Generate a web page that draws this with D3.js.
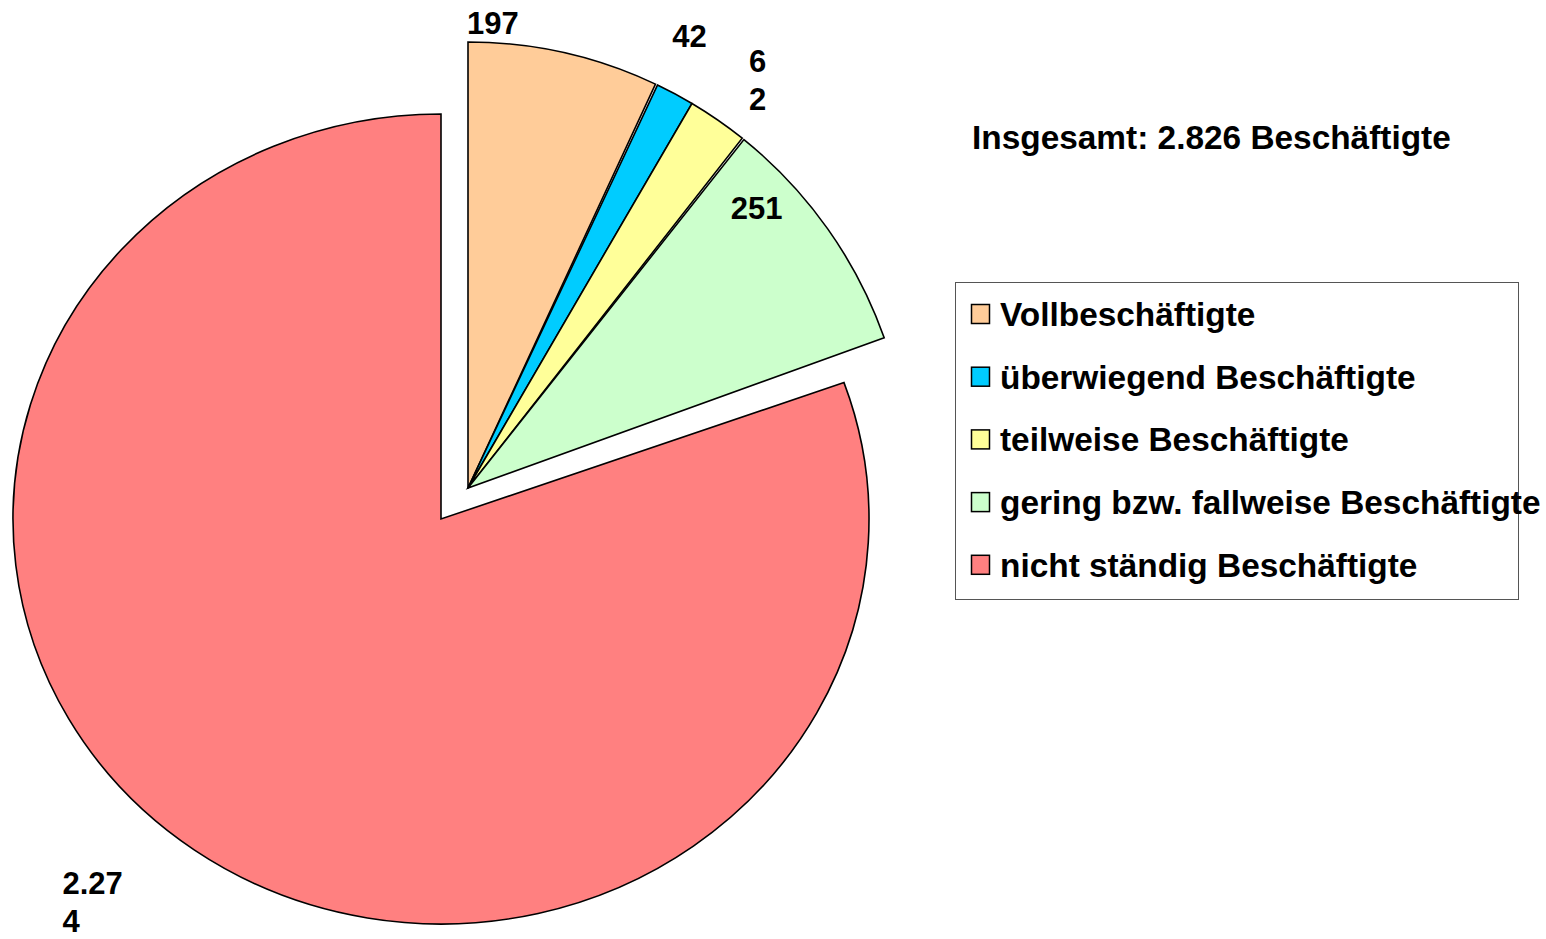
<!DOCTYPE html>
<html>
<head>
<meta charset="utf-8">
<script src="https://cdn.jsdelivr.net/npm/d3@7"></script>
<style>
  body { margin: 0; background: #fff; }
  svg text { font-family: "Liberation Sans", Arial, sans-serif; font-weight: bold; fill: #000; }
</style>
</head>
<body>
<svg id="chart" width="1546" height="939"></svg>
<script>
const categories = [
  "Vollbeschäftigte",
  "überwiegend Beschäftigte",
  "teilweise Beschäftigte",
  "gering bzw. fallweise Beschäftigte",
  "nicht ständig Beschäftigte"
];
const values = [197, 42, 62, 251, 2274];
const colors = ["#FFCC99", "#00CCFF", "#FFFF99", "#CCFFCC", "#FF8080"];
const titlePrefix = "Insgesamt: ";
const titleSuffix = " Beschäftigte";

// layout
const mainPart = { cx: 441, cy: 519, rx: 428, ry: 405 };   // red slice
const explodedPart = { cx: 468, cy: 488, rx: 442, ry: 446 }; // small slices
const sliceGap = [0, 0.005, 0, 0.005, 0];
const labelPlace = [
  { turn: -9.5, r: 466, wrap: 200 },
  { turn: -1.8, r: 503, wrap: 200 },
  { turn: 1.0, r: 500, wrap: 25 },
  { turn: -8.6, r: 402, wrap: 200 },
  { turn: 7.1, r: 518, wrap: 70 }
];
const labelSize = 31;
const labelLineHeight = 38;
const legendBox = { x: 955, y: 282, width: 563, height: 317 };
const legendRow = { x: 971, y: 314, step: 62.7, swatch: 19, textX: 1000 };
const textSize = 33.4;

const de = d3.formatLocale({ decimal: ",", thousands: ".", grouping: [3], currency: ["", " €"] });
const fmt = de.format(",d");

const svg = d3.select("#chart");

const pie = d3.pie().sort(null).value(d => d);
const arcs = pie(values).map((a, i) => ({ ...a, startAngle: a.startAngle + sliceGap[i], index: i }));

const partOf = i => (i === values.length - 1 ? mainPart : explodedPart);

const drawSlice = a => {
  const part = partOf(a.index);
  const k = part.rx / part.ry;
  const arc = d3.arc().innerRadius(0).outerRadius(part.ry);
  svg.append("path")
    .attr("transform", `translate(${part.cx},${part.cy}) scale(${k},1)`)
    .attr("d", arc(a))
    .attr("fill", colors[a.index])
    .attr("stroke", "#000")
    .attr("stroke-width", 1.6)
    .attr("vector-effect", "non-scaling-stroke");
};

arcs.forEach(drawSlice);

// data labels, wrapped like the original when they are too wide
arcs.forEach(a => {
  const i = a.index;
  const part = partOf(i);
  const place = labelPlace[i];
  const mid = (a.startAngle + a.endAngle) / 2 + (place.turn * Math.PI) / 180;
  const px = part.cx + place.r * Math.sin(mid);
  const py = part.cy - place.r * Math.cos(mid);

  const text = svg.append("text").attr("font-size", labelSize);
  const str = fmt(values[i]);
  const lines = [];
  let cur = "";
  const probe = text.append("tspan");
  for (const ch of str) {
    probe.text(cur + ch);
    if (cur && probe.node().getComputedTextLength() > place.wrap) {
      lines.push(cur);
      cur = ch;
    } else {
      cur += ch;
    }
  }
  lines.push(cur);
  probe.remove();

  const widths = lines.map(l => {
    const t = text.append("tspan").text(l);
    const w = t.node().getComputedTextLength();
    t.remove();
    return w;
  });
  const x0 = px - d3.max(widths) / 2;
  const y0 = py - ((lines.length - 1) * labelLineHeight) / 2 + labelSize * 0.35;
  lines.forEach((l, j) => {
    text.append("tspan").attr("x", x0).attr("y", y0 + j * labelLineHeight).text(l);
  });
});

// title
svg.append("text")
  .attr("x", 972)
  .attr("y", 149)
  .attr("font-size", textSize)
  .text(titlePrefix + fmt(d3.sum(values)) + titleSuffix);

// legend
const legend = svg.append("g");
legend.append("rect")
  .attr("x", legendBox.x + 0.5)
  .attr("y", legendBox.y + 0.5)
  .attr("width", legendBox.width)
  .attr("height", legendBox.height)
  .attr("fill", "none")
  .attr("stroke", "#555")
  .attr("stroke-width", 1);

const rows = legend.selectAll("g.row")
  .data(categories)
  .join("g")
  .attr("class", "row")
  .attr("transform", (d, i) => `translate(0,${legendRow.y + i * legendRow.step})`);

rows.append("rect")
  .attr("x", legendRow.x + 0.5)
  .attr("y", -legendRow.swatch / 2)
  .attr("width", legendRow.swatch - 1)
  .attr("height", legendRow.swatch)
  .attr("fill", (d, i) => colors[i])
  .attr("stroke", "#000")
  .attr("stroke-width", 1.5);

rows.append("text")
  .attr("x", legendRow.textX)
  .attr("y", 12)
  .attr("font-size", textSize)
  .text(d => d);
</script>
</body>
</html>
